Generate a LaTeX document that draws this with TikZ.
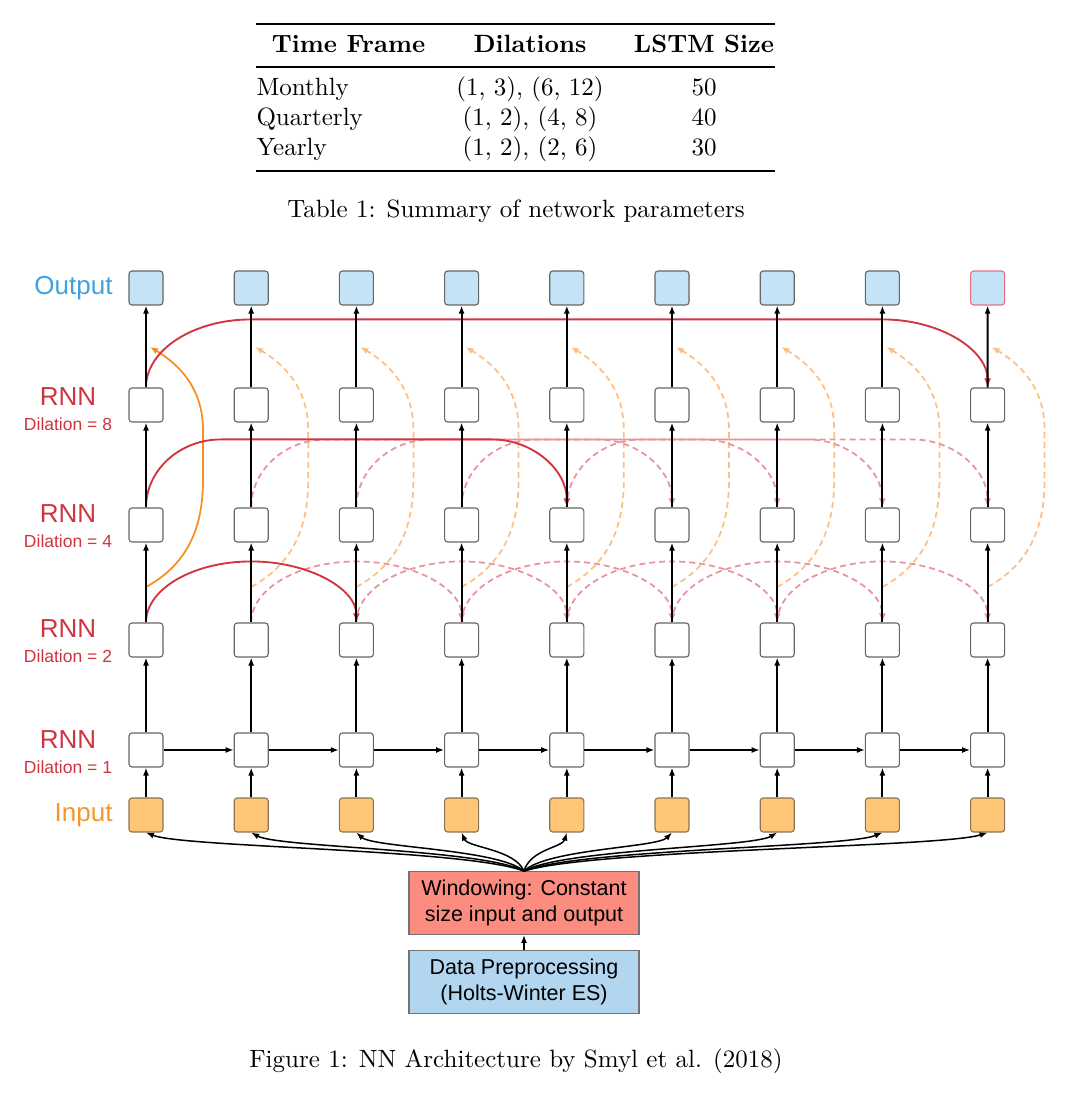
\documentclass[tikz,border=0pt]{standalone}
\usepackage{fontspec}
\newfontfamily\diagfont{Liberation Sans}
\usetikzlibrary{arrows.meta,calc}

\definecolor{outfill}{HTML}{C5E3F6}
\definecolor{infill}{HTML}{FEC676}
\definecolor{inborder}{HTML}{8A7552}
\definecolor{outred}{HTML}{E2707E}
\definecolor{labblue}{HTML}{3FA2DD}
\definecolor{labred}{HTML}{CF3441}
\definecolor{laborange}{HTML}{F2962E}
\definecolor{dilred}{HTML}{D23440}
\definecolor{dilpink}{HTML}{E8939B}
\definecolor{resorange}{HTML}{F39020}
\definecolor{reslight}{HTML}{FCC086}
\definecolor{winfill}{HTML}{FC8C80}
\definecolor{prepfill}{HTML}{B2D6F0}

\tikzset{
  rnnbox/.style={draw=black!60, fill=white, rounded corners=1.2pt, minimum size=13.6pt, inner sep=0pt, line width=0.45pt},
  outbox/.style={rnnbox, fill=outfill},
  inbox/.style={rnnbox, fill=infill, draw=inborder},
  flow/.style={-{Latex[length=3.2pt,width=2.4pt]}, line width=0.75pt},
  fanflow/.style={-{Latex[length=3.2pt,width=2.4pt]}, line width=0.6pt},
  dilsolid/.style={-{Latex[length=3.6pt,width=2.8pt]}, draw=dilred, line width=0.75pt},
  dildashed/.style={-{Latex[length=3.6pt,width=2.8pt]}, draw=dilpink, line width=0.7pt, dash pattern=on 2.4pt off 1.6pt},
  ressolid/.style={-{Latex[length=3.2pt,width=2.6pt]}, draw=resorange, line width=0.7pt},
  resdashed/.style={ressolid, draw=reslight, dash pattern=on 2.4pt off 1.6pt},
  rowlabel/.style={font=\diagfont\fontsize{10.4}{12}\selectfont, inner sep=0pt},
  dillabel/.style={font=\diagfont\fontsize{7}{8}\selectfont, text=labred, inner sep=0pt},
  textbox/.style={draw=black!55, line width=0.45pt, minimum width=92pt, minimum height=22.4pt, align=center, font=\diagfont\fontsize{8.6}{10.4}\selectfont},
  tabtext/.style={font=\fontsize{10}{12}\selectfont, anchor=base, inner sep=0pt},
}

% arc between two cells of one layer: style, from, to, rise, corner width
\newcommand\dilarc[5][]{%
  \draw[#1] (#2) .. controls +(0,-0.55*#4) and +(-0.55*#5,0) .. ($(#2)+(#5,-#4)$)
    -- ($(#3)+(-#5,-#4)$) .. controls +(0.55*#5,0) and +(0,-0.55*#4) .. (#3);}
% skip connection round the second block
\newcommand\resarc[2][]{%
  \draw[#1] (resa-#2) .. controls +(40,-22) and +(0,50) .. ++(57,-107)
    -- ++(0,-50) .. controls +(0,-45) and +(25,15) .. (resb-#2);}

\begin{document}
\begin{tikzpicture}[x=0.4pt, y=-0.4pt]
\useasboundingbox (0,0) rectangle (1080,1097);

% table
\draw[line width=0.8pt] (256,24) -- (775,24);
\draw[line width=0.5pt] (256,67) -- (775,67);
\draw[line width=0.8pt] (256,171) -- (775,171);
\node[tabtext] (hframe) at (348.5,53) {\bfseries Time Frame};
\node[tabtext] (hdil) at (530,53) {\bfseries Dilations};
\node[tabtext] (hsize) at (704,53) {\bfseries LSTM Size};
\node[tabtext, anchor=base west] (tmon) at (256,96) {Monthly};
\node[tabtext] (dmon) at (530,96) {(1, 3), (6, 12)};
\node[tabtext] (smon) at (704,96) {50};
\node[tabtext, anchor=base west] (tqua) at (256,126) {Quarterly};
\node[tabtext] (dqua) at (530,126) {(1, 2), (4, 8)};
\node[tabtext] (squa) at (704,126) {40};
\node[tabtext, anchor=base west] (tyea) at (256,156) {Yearly};
\node[tabtext] (dyea) at (530,156) {(1, 2), (2, 6)};
\node[tabtext] (syea) at (704,156) {30};
\node[tabtext] (tabcap) at (516,218) {Table 1: Summary of network parameters};

% row labels
\node[rowlabel, text=labblue, anchor=east] (lout) at (113,288) {Output};
\node[rowlabel, text=labred] (lr8) at (68,397) {RNN};
\node[dillabel] (ld8) at (68,424) {Dilation = 8};
\node[rowlabel, text=labred] (lr4) at (68,514) {RNN};
\node[dillabel] (ld4) at (68,541) {Dilation = 4};
\node[rowlabel, text=labred] (lr2) at (68,629) {RNN};
\node[dillabel] (ld2) at (68,656) {Dilation = 2};
\node[rowlabel, text=labred] (lr1) at (68,740) {RNN};
\node[dillabel] (ld1) at (68,767) {Dilation = 1};
\node[rowlabel, text=laborange, anchor=east] (lin) at (113,815) {Input};

% cells
\foreach \i in {0,...,8} {
  \pgfmathsetmacro\cx{146+105.2*\i}
  \node[inbox] (in-\i) at (\cx,815) {};
  \node[rnnbox] (r1-\i) at (\cx,750) {};
  \node[rnnbox] (r2-\i) at (\cx,640) {};
  \node[rnnbox] (r4-\i) at (\cx,525) {};
  \node[rnnbox] (r8-\i) at (\cx,405) {};
  \coordinate (resa-\i) at (\cx,587);
  \coordinate (resb-\i) at (\cx+4,347);
}
\foreach \i in {0,...,7} {
  \node[outbox] (out-\i) at (146+105.2*\i,288) {};
}
\node[outbox, draw=outred] (out-8) at (987.6,288) {};

% skip connections
\foreach \i in {1,...,8} { \resarc[resdashed]{\i} }
\resarc[ressolid]{0}

% dilated connections
\foreach \i [evaluate=\i as \j using int(\i+2)] in {1,...,6} {
  \dilarc[dildashed]{r2-\i.north}{r2-\j.north}{61}{105.2}
}
\foreach \i [evaluate=\i as \j using int(\i+4)] in {1,...,4} {
  \dilarc[dildashed]{r4-\i.north}{r4-\j.north}{68}{75}
}
\dilarc[dilsolid]{r2-0.north}{r2-2.north}{61}{105.2}
\dilarc[dilsolid]{r4-0.north}{r4-4.north}{68}{75}
\dilarc[dilsolid]{r8-0.north}{r8-8.north}{68}{105}

% stacked layers
\foreach \i in {0,...,8} {
  \draw[flow] (in-\i) -- (r1-\i);
  \draw[flow] (r1-\i) -- (r2-\i);
  \draw[flow] (r2-\i) -- (r4-\i);
  \draw[flow] (r4-\i) -- (r8-\i);
  \draw[flow] (r8-\i) -- (out-\i);
}
\foreach \i [count=\j] in {0,...,7} {
  \draw[flow, line width=0.6pt] (r1-\i) -- (r1-\j);
}

% preprocessing
\node[textbox, fill=prepfill] (prep) at (524,982) {Data Preprocessing\\(Holts-Winter ES)};
\node[textbox, fill=winfill] (win) at (524,903) {Windowing: Constant\\size input and output};
\draw[fanflow] (prep) -- (win);
\foreach \i in {0,...,8} {
  \pgfmathsetmacro\fca{0.15*(146+105.2*\i-524)}
  \pgfmathsetmacro\fcb{-0.1*(146+105.2*\i-524)}
  \draw[fanflow] (win.north) .. controls +(\fca,-22) and +(\fcb,15) .. (in-\i.south);
}

\node[tabtext] (figcap) at (516,1067) {Figure 1: NN Architecture by Smyl et al. (2018)};
\end{tikzpicture}
\end{document}
